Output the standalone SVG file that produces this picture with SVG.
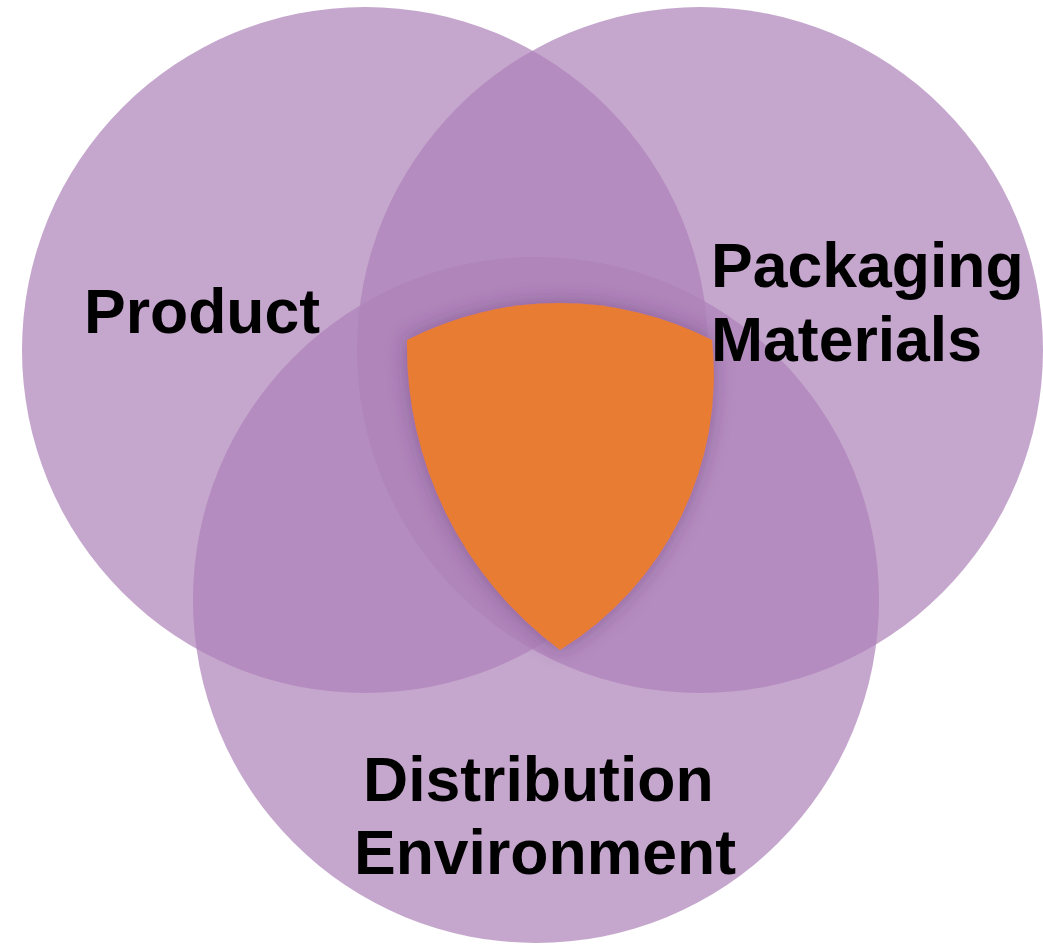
<svg xmlns="http://www.w3.org/2000/svg" width="1043" height="944" viewBox="0 0 1043 944">
  <defs>
    <style>
      .set { fill: #AD81B8; fill-opacity: 0.71; }
      .label { font-family: "Liberation Sans", Arial, sans-serif; font-weight: bold; font-size: 62.5px; fill: #000000; }
      .core { fill: #E77B31; }
    </style>
    <filter id="coreShadow" x="-20%" y="-20%" width="140%" height="140%">
      <feGaussianBlur in="SourceAlpha" stdDeviation="10" result="blur"/>
      <feFlood flood-color="#5A2A6A" flood-opacity="0.45"/>
      <feComposite in2="blur" operator="in" result="shadow"/>
      <feMerge>
        <feMergeNode in="shadow"/>
        <feMergeNode in="SourceGraphic"/>
      </feMerge>
    </filter>
  </defs>

  <rect width="1043" height="944" fill="#FFFFFF"/>

  <!-- the three overlapping sets -->
  <g id="product">
    <circle class="set" cx="365" cy="350" r="343"/>
  </g>
  <g id="packaging">
    <circle class="set" cx="700" cy="350" r="343"/>
  </g>
  <g id="distribution">
    <circle class="set" cx="536" cy="600" r="343"/>
  </g>

  <!-- common core of all three sets -->
  <g id="intersection">
    <path class="core" filter="url(#coreShadow)"
          d="M407,340 A333,333 0 0 1 712,340 A323,323 0 0 1 560,650 A378,378 0 0 1 407,340 Z"/>
  </g>

  <!-- set labels, kept above every circle -->
  <g id="product-label">
    <text class="label" x="84" y="333">Product</text>
  </g>
  <g id="packaging-label">
    <text class="label" x="711" y="287">Packaging</text>
    <text class="label" x="711" y="361">Materials</text>
  </g>
  <g id="distribution-label">
    <text class="label" x="363" y="801">Distribution</text>
    <text class="label" x="354" y="874">Environment</text>
  </g>

  <g id="connectors"></g>
</svg>
